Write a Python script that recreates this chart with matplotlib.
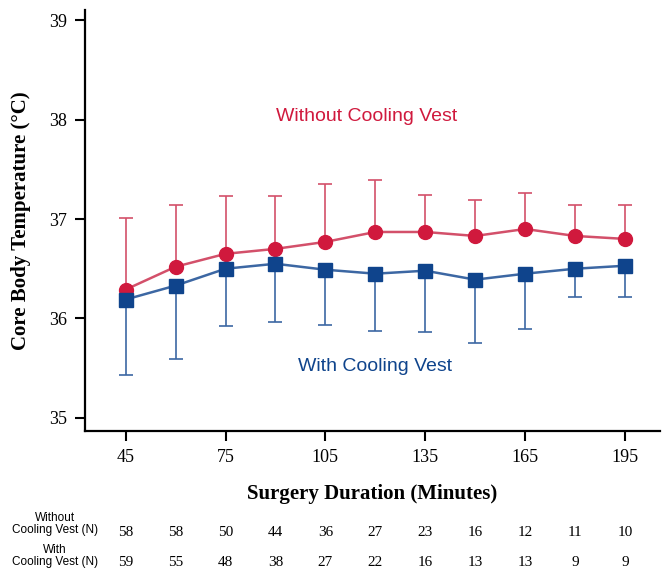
import numpy as np
import matplotlib
matplotlib.use("Agg")
import matplotlib.pyplot as plt
import matplotlib.transforms as mtransforms

# === Data ===
minutes = [45, 60, 75, 90, 105, 120, 135, 150, 165, 180, 195]
without_mean = [36.29, 36.52, 36.65, 36.70, 36.77, 36.87, 36.87, 36.83, 36.90, 36.83, 36.80]
without_upper = [37.01, 37.14, 37.23, 37.23, 37.35, 37.39, 37.24, 37.19, 37.26, 37.14, 37.14]
with_mean = [36.19, 36.33, 36.50, 36.55, 36.49, 36.45, 36.48, 36.39, 36.45, 36.50, 36.53]
with_lower = [35.43, 35.59, 35.92, 35.96, 35.93, 35.87, 35.86, 35.75, 35.89, 36.22, 36.22]
n_without = [58, 58, 50, 44, 36, 27, 23, 16, 12, 11, 10]
n_with = [59, 55, 48, 38, 27, 22, 16, 13, 13, 9, 9]
xticks = [45, 75, 105, 135, 165, 195]
yticks = [35, 36, 37, 38, 39]

red = '#D0193D'
red_line = '#D3506A'
blue = '#0F448C'
blue_line = '#3C67A3'
serif = 'Liberation Serif'
sans = 'Liberation Sans'

fig = plt.figure(figsize=(6.62, 5.72), dpi=100)
ax = fig.add_axes([0.1284, 0.2465, 0.8686, 0.736])

wm = np.array(without_mean)
wu = np.array(without_upper)
cm = np.array(with_mean)
cl = np.array(with_lower)

# error bars (one-sided)
ax.errorbar(minutes, wm, yerr=[np.zeros_like(wm), wu - wm], fmt='none',
            ecolor=red_line, elinewidth=1.2, capsize=5, capthick=1.2, zorder=2)
ax.errorbar(minutes, cm, yerr=[cm - cl, np.zeros_like(cm)], fmt='none',
            ecolor=blue_line, elinewidth=1.2, capsize=5, capthick=1.2, zorder=2)

ax.plot(minutes, wm, color=red_line, lw=1.8, zorder=3)
ax.plot(minutes, wm, 'o', color=red, ms=10, mec=red, zorder=4)
ax.plot(minutes, cm, color=blue_line, lw=1.8, zorder=3)
ax.plot(minutes, cm, 's', color=blue, ms=10, mec=blue, zorder=4)

ax.text(117.5, 38.03, 'Without Cooling Vest', color=red, fontsize=14,
        family=sans, ha='center', va='center')
ax.text(120, 35.52, 'With Cooling Vest', color=blue, fontsize=14,
        family=sans, ha='center', va='center')

ax.set_xlim(32.8, 205.5)
ax.set_ylim(34.866, 39.105)
ax.set_xticks(xticks)
ax.set_yticks(yticks)
for s in ['top', 'right']:
    ax.spines[s].set_visible(False)
for s in ['left', 'bottom']:
    ax.spines[s].set_linewidth(1.6)
ax.tick_params(direction='out', length=7, width=1.5, labelsize=13, pad=6)
for lab in ax.get_xticklabels() + ax.get_yticklabels():
    lab.set_family(serif)

ax.set_xlabel('Surgery Duration (Minutes)', family=serif, fontsize=15,
              fontweight='bold', labelpad=13)
ax.set_ylabel('Core Body Temperature (°C)', family=serif, fontsize=15,
              fontweight='bold', labelpad=13)

# === N table below axis ===
trans = mtransforms.blended_transform_factory(ax.transData, fig.transFigure)
row_y = [1 - 532 / 572, 1 - 563 / 572]
for x, a, b in zip(minutes, n_without, n_with):
    ax.text(x, row_y[0], str(a), transform=trans, ha='center', va='center',
            family=serif, fontsize=11, clip_on=False)
    ax.text(x, row_y[1], str(b), transform=trans, ha='center', va='center',
            family=serif, fontsize=11, clip_on=False)
fig.text(55 / 662, 1 - 524 / 572, 'Without\nCooling Vest (N)', ha='center',
         va='center', family=sans, fontsize=8.5, multialignment='center',
         linespacing=1.0)
fig.text(55 / 662, 1 - 556 / 572, 'With\nCooling Vest (N)', ha='center',
         va='center', family=sans, fontsize=8.5, multialignment='center',
         linespacing=1.0)

fig.savefig('out.png', dpi=100)
